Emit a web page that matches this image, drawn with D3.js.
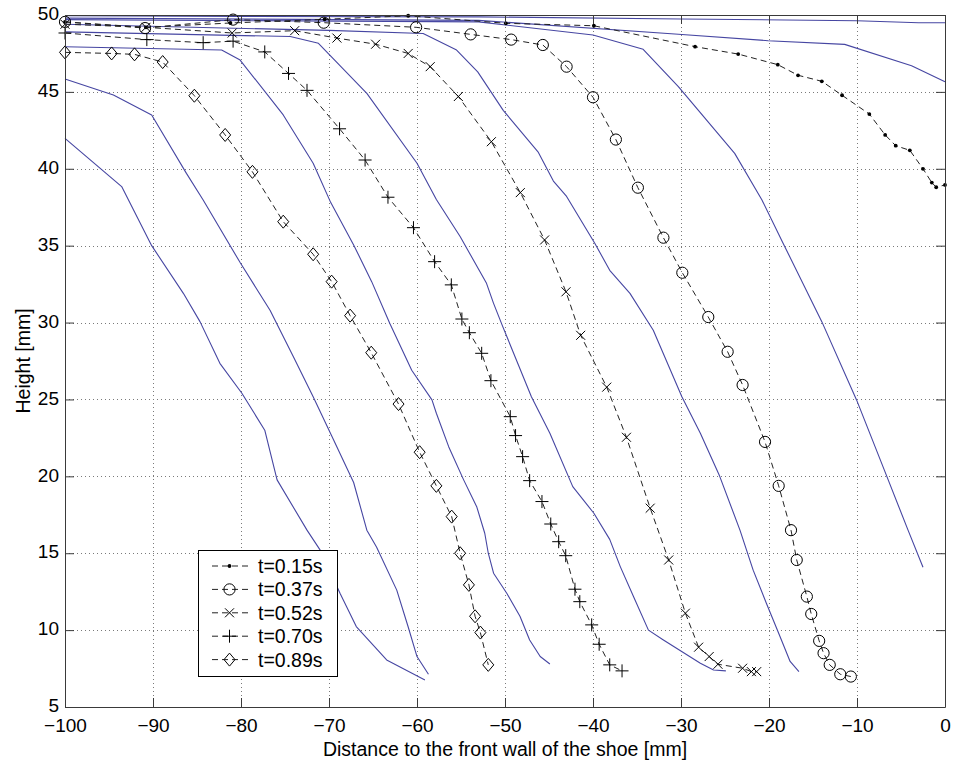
<!DOCTYPE html>
<html>
<head>
<meta charset="utf-8">
<script src="https://cdn.jsdelivr.net/npm/d3@7"></script>
<style>
  body { margin: 0; background: #fff; }
  svg { display: block; }
  text { font-family: "Liberation Sans", Arial, Helvetica, sans-serif; fill: #000; }
</style>
</head>
<body>
<svg id="chart" width="957" height="769"></svg>
<script>
// Axis ticks
const xTickValues = [-100, -90, -80, -70, -60, -50, -40, -30, -20, -10, 0];
const yTickValues = [5, 10, 15, 20, 25, 30, 35, 40, 45, 50];

const xLabel = "Distance to the front wall of the shoe [mm]";
const yLabel = "Height [mm]";

// Measured profiles [distance, height]
const t015 = [[-100,49.55],[-90.8,49.2],[-81.2,49.48],[-70.5,49.72],[-61,49.95],[-49.9,49.46],[-39.9,49.3],[-28.4,47.94],[-23.5,47.46],[-19.0,46.77],[-16.7,46.08],[-14.0,45.69],[-11.7,44.78],[-8.6,43.56],[-6.8,42.2],[-5.6,41.5],[-4.0,41.2],[-2.5,40.0],[-1.5,39.1],[-1.0,38.8],[0,38.95]];
const t037 = [[-100,49.55],[-90.9,49.15],[-80.9,49.7],[-70.6,49.5],[-60.1,49.2],[-53.9,48.74],[-49.3,48.4],[-45.7,48.05],[-43.0,46.64],[-40.0,44.65],[-37.4,41.9],[-34.9,38.77],[-32.0,35.52],[-29.85,33.24],[-26.9,30.36],[-24.7,28.1],[-23.0,25.94],[-20.45,22.24],[-18.9,19.38],[-17.5,16.5],[-16.85,14.56],[-15.7,12.18],[-15.2,11.05],[-14.3,9.3],[-13.8,8.5],[-13.1,7.74],[-11.9,7.13],[-10.7,6.98]];
const t052 = [[-100,49.4],[-90.8,49.2],[-81,48.83],[-73.9,48.98],[-69.1,48.5],[-64.7,48.1],[-61.0,47.5],[-58.5,46.64],[-55.3,44.7],[-51.55,41.76],[-48.26,38.45],[-45.5,35.37],[-43.07,32.0],[-41.4,29.17],[-38.44,25.8],[-36.2,22.54],[-33.5,17.93],[-31.4,14.56],[-29.5,11.1],[-28.0,8.89],[-26.8,8.28],[-25.8,7.78],[-23.0,7.52],[-22.0,7.3],[-21.4,7.3]];
const t070 = [[-100,48.83],[-90.7,48.4],[-84.3,48.2],[-80.9,48.3],[-77.3,47.6],[-74.6,46.2],[-72.5,45.1],[-68.8,42.6],[-65.9,40.57],[-63.3,38.15],[-60.4,36.17],[-58.0,33.96],[-56.1,32.45],[-54.9,30.23],[-54.05,29.34],[-52.65,28.0],[-51.6,26.22],[-49.4,23.88],[-48.8,22.65],[-48.0,21.28],[-47.2,19.72],[-45.8,18.36],[-44.8,16.9],[-43.9,15.75],[-43.1,14.84],[-42.05,12.66],[-41.5,11.85],[-40.15,10.34],[-39.3,9.08],[-38.1,7.74],[-36.7,7.35]];
const t089 = [[-100,47.57],[-94.7,47.5],[-92.1,47.44],[-88.9,46.94],[-85.3,44.75],[-81.8,42.2],[-78.7,39.8],[-75.2,36.56],[-71.8,34.44],[-69.7,32.66],[-67.6,30.45],[-65.2,28.04],[-62.1,24.7],[-59.7,21.57],[-57.8,19.38],[-56.06,17.38],[-55.1,15.0],[-54.1,12.94],[-53.4,10.9],[-52.8,9.84],[-51.9,7.74]];

const legendLabels = ["t=0.15s", "t=0.37s", "t=0.52s", "t=0.70s", "t=0.89s"];
const legendMarkers = ["dot", "circle", "cross", "plus", "diamond"];

// Simulated profiles [distance, height]
const sim1 = [[-100,49.95],[-80,49.9],[-53,49.88],[-30,49.74],[-10,49.63],[-3,49.5],[0,49.5]];
const sim2 = [[-100,49.8],[-53,49.65],[-30.3,48.75],[-20.1,48.33],[-11.4,48.09],[-3.8,46.7],[0,45.66]];
const sim3 = [[-100,49.7],[-53,49.55],[-40,48.7],[-34.3,47.77],[-30.3,45.34],[-23.9,41.0],[-20.8,37.97],[-18.4,35.16],[-14.0,30.06],[-10.05,24.97],[-6.6,19.98],[-4.2,16.5],[-2.5,14.09]];
const sim4 = [[-100,49.4],[-70,49.0],[-59.3,48.8],[-55.5,47.72],[-53.1,46.3],[-50.2,43.8],[-46.25,41.1],[-44.5,39.2],[-43.0,38.2],[-39.8,35.16],[-38.1,33.4],[-35.8,31.9],[-33.15,29.5],[-29.9,25.18],[-27.8,22.8],[-25.6,20.0],[-23.3,16.5],[-21.8,13.9],[-20.3,11.75],[-18.75,9.58],[-17.6,7.96],[-16.6,7.3]];
const sim5 = [[-100,48.9],[-74.4,48.6],[-71.2,48.16],[-65.7,44.9],[-60.0,40.36],[-57.8,38.0],[-55.1,35.6],[-52.1,32.55],[-51.3,31.25],[-50.3,29.8],[-47.0,25.18],[-44.9,22.8],[-42.3,19.33],[-39.9,17.6],[-38.1,15.9],[-36.9,14.13],[-35.4,12.18],[-33.7,10.0],[-32.0,9.36],[-27.8,7.85],[-26.3,7.41],[-24.9,7.35]];
const sim6 = [[-100,47.94],[-82.2,47.72],[-80.1,47.07],[-75.2,43.5],[-71.8,40.36],[-69.8,37.8],[-67.2,35.05],[-65.15,32.66],[-63.1,29.95],[-60.6,26.9],[-58.3,24.97],[-57.8,24.1],[-56.4,21.93],[-54.7,19.77],[-53.2,18.0],[-52.3,16.3],[-51.9,15.0],[-51.3,13.7],[-49.8,12.4],[-48.3,10.9],[-47.2,9.36],[-46.0,8.28],[-44.9,7.8]];
const sim7 = [[-100,45.84],[-94.5,44.8],[-90.15,43.5],[-86.2,39.7],[-84.3,37.97],[-80.1,33.9],[-76.7,30.8],[-74.06,27.8],[-71.8,25.18],[-69.5,22.4],[-67.2,19.6],[-65.7,16.5],[-64.6,15.4],[-62.3,12.6],[-61.0,10.2],[-60.0,8.28],[-58.7,7.13]];
const sim8 = [[-100,41.98],[-93.56,38.84],[-90.15,35.0],[-86.55,31.9],[-84.66,30.06],[-82.4,27.35],[-79.9,25.4],[-77.3,23.0],[-75.9,19.77],[-72.5,16.5],[-71.0,15.2],[-68.75,12.4],[-66.9,10.23],[-63.45,8.06],[-59.1,6.76]];

const simulated = [sim1, sim2, sim3, sim4, sim5, sim6, sim7, sim8];
const measured = [t015, t037, t052, t070, t089];

// Layout
const plot = { left: 65, right: 945, top: 15, bottom: 707 };
const fontSize = 19;

const svg = d3.select("#chart");

const x = d3.scaleLinear().domain([-100, 0]).range([plot.left, plot.right]);
const y = d3.scaleLinear().domain([5, 50]).range([plot.bottom, plot.top]);

// Dotted grid
const grid = svg.append("g").attr("class", "grid")
  .attr("stroke", "#7a7a7a").attr("stroke-width", 1).attr("stroke-dasharray", "1,3");
grid.selectAll("line.gx").data(xTickValues.slice(1, -1)).join("line")
  .attr("x1", d => Math.round(x(d)) + 0.5).attr("x2", d => Math.round(x(d)) + 0.5)
  .attr("y1", plot.top).attr("y2", plot.bottom);
grid.selectAll("line.gy").data(yTickValues.slice(1, -1)).join("line")
  .attr("y1", d => Math.round(y(d)) + 0.5).attr("y2", d => Math.round(y(d)) + 0.5)
  .attr("x1", plot.left).attr("x2", plot.right);

const line = d3.line().x(d => x(d[0])).y(d => y(d[1]));

// Simulated profiles: solid blue
svg.append("g").attr("class", "simulated")
  .selectAll("path").data(simulated).join("path")
  .attr("d", line)
  .attr("fill", "none")
  .attr("stroke", "#4646a2")
  .attr("stroke-width", 1.1)
  .attr("stroke-linejoin", "round");

// Marker shapes centred on the origin
function markerShape(type) {
  switch (type) {
    case "cross": return "M-4.5,-4.5L4.5,4.5M-4.5,4.5L4.5,-4.5";
    case "plus": return "M-6.5,0L6.5,0M0,-6.5L0,6.5";
    case "diamond": return "M0,-6.5L5.5,0L0,6.5L-5.5,0Z";
    default: return null;
  }
}
function drawMarker(g, type, cx, cy) {
  if (type === "dot") {
    g.append("circle").attr("cx", cx).attr("cy", cy).attr("r", 1.9).attr("fill", "#000");
  } else if (type === "circle") {
    g.append("circle").attr("cx", cx).attr("cy", cy).attr("r", 5.6)
      .attr("fill", "none").attr("stroke", "#000").attr("stroke-width", 1);
  } else {
    g.append("path").attr("d", markerShape(type))
      .attr("transform", `translate(${cx},${cy})`)
      .attr("fill", "none").attr("stroke", "#000").attr("stroke-width", 1);
  }
}

// Measured profiles: dashed black with markers
const meas = svg.append("g").attr("class", "measured");
measured.forEach((series, i) => {
  const g = meas.append("g");
  g.append("path").datum(series)
    .attr("d", line)
    .attr("fill", "none")
    .attr("stroke", "#222")
    .attr("stroke-width", 1)
    .attr("stroke-dasharray", "6,4");
  series.forEach(d => drawMarker(g, legendMarkers[i], x(d[0]), y(d[1])));
});

// Axes with inward ticks on all four sides
const axisColor = "#3a3a3a";
function styleAxis(g) {
  g.select(".domain").attr("stroke", axisColor).attr("stroke-width", 1);
  g.selectAll(".tick line").attr("stroke", axisColor).attr("stroke-width", 1);
  g.selectAll(".tick text").attr("font-size", fontSize).attr("font-family", null).attr("fill", "#000");
}

svg.append("g").attr("transform", `translate(0,${plot.bottom})`)
  .call(d3.axisBottom(x).tickValues(xTickValues).tickSizeInner(-9).tickSizeOuter(0).tickPadding(12))
  .call(styleAxis);
svg.append("g").attr("transform", `translate(0,${plot.top})`)
  .call(d3.axisTop(x).tickValues(xTickValues).tickSizeInner(-9).tickSizeOuter(0).tickFormat(""))
  .call(styleAxis);
svg.append("g").attr("transform", `translate(${plot.left},0)`)
  .call(d3.axisLeft(y).tickValues(yTickValues).tickSizeInner(-9).tickSizeOuter(0).tickPadding(6))
  .call(styleAxis)
  .call(g => g.selectAll(".tick text").attr("dy", "0.25em"));
svg.append("g").attr("transform", `translate(${plot.right},0)`)
  .call(d3.axisRight(y).tickValues(yTickValues).tickSizeInner(-9).tickSizeOuter(0).tickFormat(""))
  .call(styleAxis);

// Axis titles
svg.append("text")
  .attr("x", (plot.left + plot.right) / 2).attr("y", 756)
  .attr("text-anchor", "middle").attr("font-size", 19.5)
  .text(xLabel);
svg.append("text")
  .attr("transform", `translate(29.5,${(plot.top + plot.bottom) / 2}) rotate(-90)`)
  .attr("text-anchor", "middle").attr("font-size", 19.5)
  .text(yLabel);

// Legend
const legend = { left: 198.5, top: 550.5, width: 139, height: 126, rowStart: 566, rowStep: 23.4 };
const lg = svg.append("g").attr("class", "legend");
lg.append("rect")
  .attr("x", legend.left).attr("y", legend.top)
  .attr("width", legend.width).attr("height", legend.height)
  .attr("fill", "#fff").attr("stroke", "#000").attr("stroke-width", 1);
legendLabels.forEach((label, i) => {
  const cy = legend.rowStart + i * legend.rowStep;
  const row = lg.append("g");
  row.append("line")
    .attr("x1", 212).attr("x2", 249).attr("y1", cy).attr("y2", cy)
    .attr("stroke", "#222").attr("stroke-width", 1).attr("stroke-dasharray", "6,4");
  drawMarker(row, legendMarkers[i], 229.5, cy);
  row.append("text")
    .attr("x", 258).attr("y", cy).attr("dy", "0.36em")
    .attr("font-size", 19.5)
    .text(label);
});
</script>
</body>
</html>
